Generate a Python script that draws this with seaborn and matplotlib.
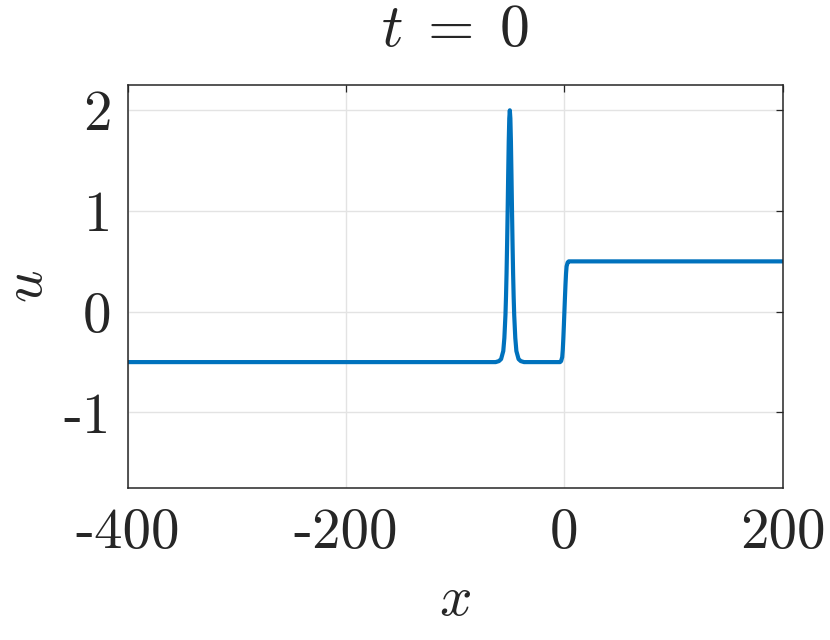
"""
Initial profile u(x, t=0): soliton at x = -50 riding on a step at x = 0.
"""
import matplotlib.pyplot as plt
import numpy as np
import pandas as pd
import seaborn as sns

# ─────────────────────────────────────────────
# DATA
# ─────────────────────────────────────────────
x_vals = [
    -400, -80, -63, -60, -58, -56, -55, -54, -53.5, -53, -52.5, -52, -51.5,
    -51, -50.5, -50, -49.5, -49, -48.5, -48, -47.5, -47, -46.5, -46, -45,
    -44, -42, -40, -37, -20, -4, -3, -2, -1.5, -1, -0.5, 0, 0.5, 1, 1.5, 2,
    3, 4, 20, 200,
]
u_vals = [
    -0.5, -0.5, -0.5, -0.49, -0.47, -0.39, -0.26, -0.03, 0.15, 0.38, 0.67,
    1.0, 1.36, 1.69, 1.92, 2.0, 1.92, 1.69, 1.36, 1.0, 0.67, 0.38, 0.15,
    -0.03, -0.26, -0.39, -0.47, -0.49, -0.5, -0.5, -0.5, -0.49, -0.45,
    -0.38, -0.27, -0.14, 0.0, 0.14, 0.27, 0.38, 0.45, 0.49, 0.5, 0.5, 0.5,
]
x_ticks = [-400, -200, 0, 200]
u_ticks = [-1, 0, 1, 2]
title_text = r"$t\;=\;0$"

# ─────────────────────────────────────────────
# STYLE
# ─────────────────────────────────────────────
sns.set_theme(style="whitegrid")
plt.rcParams["font.family"] = ["cmr10", "DejaVu Serif"]
plt.rcParams["mathtext.fontset"] = "cm"
plt.rcParams["axes.unicode_minus"] = False
plt.rcParams["axes.formatter.use_mathtext"] = True

TEXT = "#262626"
LINE = "#0072BD"
FS = 41

# ─────────────────────────────────────────────
# PLOT
# ─────────────────────────────────────────────
df = pd.DataFrame({"x": x_vals, "u": u_vals})

fig = plt.figure(figsize=(8.3, 6.4), dpi=100)
ax = fig.add_axes([0.154, 0.2375, 0.789, 0.6295])

sns.lineplot(data=df, x="x", y="u", ax=ax, color=LINE, linewidth=3.0,
             sort=False, estimator=None)

ax.set_xlim(-400, 200)
ax.set_ylim(-1.75, 2.25)
ax.set_xticks(x_ticks)
ax.set_yticks(u_ticks)
ax.set_xticklabels([str(t) for t in x_ticks])
ax.set_yticklabels([str(t) for t in u_ticks])

ax.grid(True, color="#e3e3e3", linewidth=1.0)
for side in ["top", "bottom", "left", "right"]:
    ax.spines[side].set_visible(True)
    ax.spines[side].set_color(TEXT)
    ax.spines[side].set_linewidth(1.1)

ax.tick_params(axis="both", which="major", direction="in", length=5,
               width=0.9, color=TEXT, labelcolor=TEXT, labelsize=FS,
               top=True, right=True)
ax.tick_params(axis="x", pad=14)
ax.tick_params(axis="y", pad=12)

ax.set_xlabel(r"$x$", fontsize=FS, color=TEXT, labelpad=12)
ax.set_ylabel(r"$u$", fontsize=FS, color=TEXT, labelpad=8)
ax.set_title(title_text, fontsize=FS + 2, color=TEXT, pad=28)

fig.savefig("out.png", dpi=100)
